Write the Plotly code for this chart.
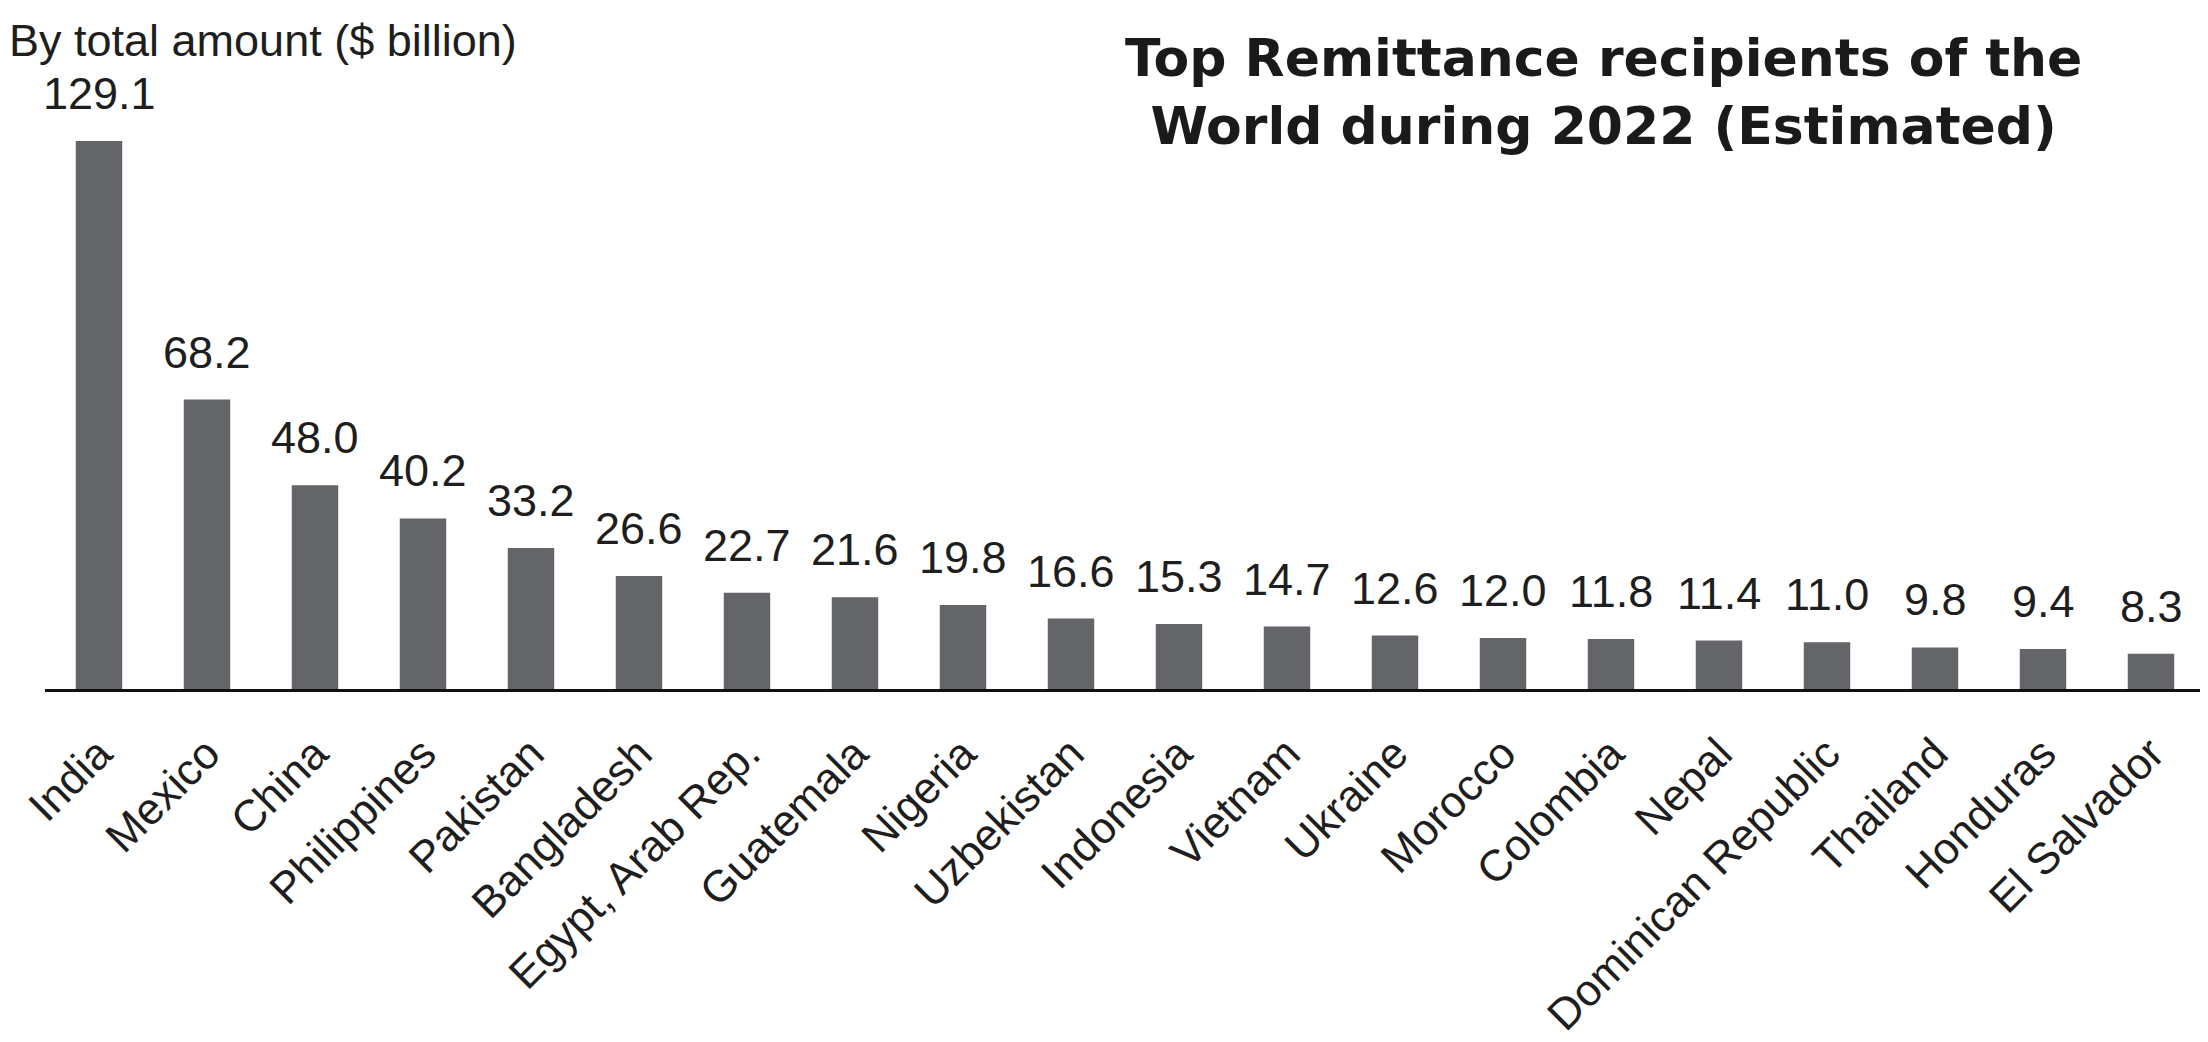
import plotly.graph_objects as go

# data
countries = [
    "India", "Mexico", "China", "Philippines", "Pakistan", "Bangladesh",
    "Egypt, Arab Rep.", "Guatemala", "Nigeria", "Uzbekistan", "Indonesia",
    "Vietnam", "Ukraine", "Morocco", "Colombia", "Nepal",
    "Dominican Republic", "Thailand", "Honduras", "El Salvador",
]
amounts = [
    129.1, 68.2, 48.0, 40.2, 33.2, 26.6, 22.7, 21.6, 19.8, 16.6, 15.3,
    14.7, 12.6, 12.0, 11.8, 11.4, 11.0, 9.8, 9.4, 8.3,
]

W, H = 2208, 1042
M_L, M_R, M_T, M_B = 34, 11, 80, 318
plot_w = W - M_L - M_R
plot_h = H - M_T - M_B

BAR_COLOR = "#646569"
TEXT_COLOR = "#1e1e1e"
FONT = "Liberation Sans, Arial, sans-serif"


def px_x(x):
    # page pixel -> paper x
    return (x - M_L) / plot_w


def px_y(y):
    # page pixel (from top) -> paper y
    return 1 + (M_T - y) / plot_h


fig = go.Figure()
fig.add_trace(go.Bar(
    x=countries,
    y=amounts,
    marker=dict(color=BAR_COLOR, line=dict(width=0)),
    width=0.43,
    hoverinfo="x+y",
))

# value labels above each bar
for c, v in zip(countries, amounts):
    fig.add_annotation(
        x=c, y=v, xref="x", yref="y",
        text=f"{v:.1f}", showarrow=False,
        yanchor="bottom", yshift=20,
        font=dict(family=FONT, size=45, color=TEXT_COLOR),
    )

# unit note, top left
fig.add_annotation(
    x=px_x(-4), y=px_y(0),
    xref="paper", yref="paper",
    xanchor="left", yanchor="top",
    text="By total amount ($ billion)", showarrow=False,
    font=dict(family=FONT, size=45, color=TEXT_COLOR),
)

# title, top right
fig.add_annotation(
    x=px_x(1595), y=px_y(84),
    xref="paper", yref="paper",
    xanchor="center", yanchor="middle",
    text="<b>Top Remittance recipients of the<br>World during 2022 (Estimated)</b>",
    showarrow=False, align="center",
    font=dict(family="DejaVu Sans, sans-serif", size=52, color="#1a1a1a"),
)

fig.update_layout(
    width=W, height=H,
    margin=dict(l=M_L, r=M_R, t=M_T, b=M_B),
    paper_bgcolor="white", plot_bgcolor="white",
    showlegend=False,
    bargap=0.57,
)
fig.update_xaxes(
    showline=True, linecolor="#111111", linewidth=3,
    showgrid=False, zeroline=False,
    tickangle=-45, ticks="outside", ticklen=18, tickcolor="rgba(0,0,0,0)",
    tickfont=dict(family=FONT, size=44, color=TEXT_COLOR),
    range=[-0.5, len(countries) - 0.5],
)
fig.update_yaxes(
    visible=False, range=[0, 141.6], showgrid=False, zeroline=False,
)

fig.write_html("out.html")
